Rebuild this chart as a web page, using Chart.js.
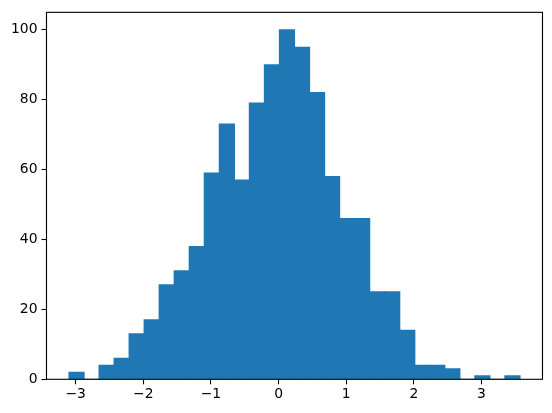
<!DOCTYPE html>
<html>
<head>
<meta charset="utf-8">
<script src="https://cdn.jsdelivr.net/npm/chart.js@4/dist/chart.umd.min.js"></script>
<style>
  html, body { margin: 0; padding: 0; background: #fff; }
  #wrap { width: 552px; height: 413px; position: relative; }
</style>
</head>
<body>
<div id="wrap"><canvas id="hist"></canvas></div>
<script>
// Histogram data (30 bins)
const binStart = -3.098;
const binWidth = 0.2222;
const counts = [2, 0, 4, 6, 13, 17, 27, 31, 38, 59, 73, 57, 79, 90, 100, 95, 82, 58, 46, 46, 25, 25, 14, 4, 4, 3, 0, 1, 0, 1];
const xTicks = [-3, -2, -1, 0, 1, 2, 3];
const yTicks = [0, 20, 40, 60, 80, 100];

// bar centres from bin edges
const points = counts.map((c, i) => ({ x: binStart + binWidth * (i + 0.5), y: c }));

const xMin = binStart - 0.05 * binWidth * counts.length;
const xMax = binStart + binWidth * counts.length + 0.05 * binWidth * counts.length;

Chart.defaults.font.family = "'DejaVu Sans', sans-serif";
Chart.defaults.font.size = 13.9;
Chart.defaults.color = "#000";

const minus = (v) => String(v).replace("-", "\u2212");

// draw the full box around the plot area
const frame = {
  id: "frame",
  afterDraw(chart) {
    const { ctx, chartArea: a } = chart;
    ctx.save();
    ctx.strokeStyle = "#000";
    ctx.lineWidth = 1.1;
    ctx.strokeRect(a.left, a.top, a.right - a.left, a.bottom - a.top);
    ctx.restore();
  },
};

new Chart(document.getElementById("hist"), {
  type: "bar",
  data: {
    datasets: [
      {
        data: points,
        backgroundColor: "#1f77b4",
        borderWidth: 0,
        inflateAmount: 0.6,
        barPercentage: 1,
        categoryPercentage: 1,
      },
    ],
  },
  options: {
    responsive: true,
    maintainAspectRatio: false,
    animation: false,
    layout: { padding: { top: 10.2, right: 9.5, left: 0, bottom: 0 } },
    plugins: {
      legend: { display: false },
      tooltip: { enabled: false },
    },
    scales: {
      x: {
        type: "linear",
        min: xMin,
        max: xMax,
        offset: false,
        afterBuildTicks: (s) => { s.ticks = xTicks.map((v) => ({ value: v })); },
        afterFit: (s) => { s.height = 33.7; },
        grid: {
          offset: false,
          drawOnChartArea: false,
          drawTicks: true,
          tickLength: 5,
          tickColor: "#000",
          tickWidth: 1.1,
        },
        border: { display: false },
        ticks: { padding: 2, maxRotation: 0, callback: (v) => minus(v) },
      },
      y: {
        min: 0,
        max: 105,
        afterBuildTicks: (s) => { s.ticks = yTicks.map((v) => ({ value: v })); },
        afterFit: (s) => { s.width = 46.5; },
        grid: {
          drawOnChartArea: false,
          drawTicks: true,
          tickLength: 5,
          tickColor: "#000",
          tickWidth: 1.1,
        },
        border: { display: false },
        ticks: { padding: 4, callback: (v) => minus(v) },
      },
    },
  },
  plugins: [frame],
});
</script>
</body>
</html>
